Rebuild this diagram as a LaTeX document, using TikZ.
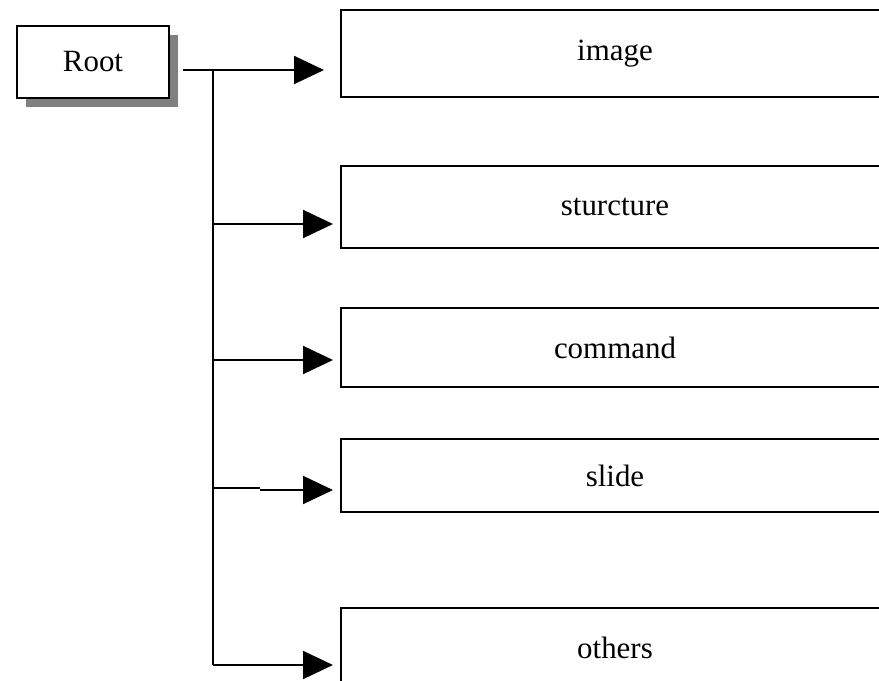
\documentclass[tikz,border=0pt]{standalone}
\usepackage{fontspec}
\setmainfont{Liberation Serif}
\usetikzlibrary{arrows.meta,shadows}

\begin{document}
\begin{tikzpicture}[x=0.025cm,y=-0.025cm,line width=1.3pt,
  leaf/.style={draw,minimum width=13.7cm,font=\fontsize{22}{26}\selectfont},
  link/.style={-{Triangle[length=0.75cm,width=0.7cm]},shorten >=0.175cm}]
\useasboundingbox (0,0) rectangle (879,681);
\clip (0,0) rectangle (879,681);

\node [draw,fill=white,minimum width=3.8cm,minimum height=1.8cm,
  font=\fontsize{22}{26}\selectfont,
  drop shadow={shadow xshift=0.22cm,shadow yshift=-0.22cm,fill=gray,opacity=1}]
  (root) at (93,62) {Root};

\node [leaf,minimum height=2.175cm] (image) at (615,53.5) {image};
\node [leaf,minimum height=2.05cm] (struct) at (615,207) {sturcture};
\node [leaf,minimum height=1.975cm] (command) at (615,347.5) {command};
\node [leaf,minimum height=1.825cm] (slide) at (615,475.5) {slide};
\node [leaf,minimum height=2cm] (others) at (615,648) {others};

\coordinate (j1) at (213,70);
\coordinate (j2) at (213,224);
\coordinate (j3) at (213,360);
\coordinate (j4) at (213,488);
\coordinate (j5) at (213,665);
\coordinate (k4) at (260,490);

\draw [shorten <=0.325cm] (root.east |- j1) -- (j1);
\draw (j1) -- (j5);

\draw [link,shorten >=0.4cm] (j1) -- (j1 -| image.west);
\draw [link] (j2) -- (j2 -| struct.west);
\draw [link] (j3) -- (j3 -| command.west);
\draw (j4) -- (j4 -| k4);
\draw [link] (k4) -- (k4 -| slide.west);
\draw [link] (j5) -- (j5 -| others.west);
\end{tikzpicture}
\end{document}
